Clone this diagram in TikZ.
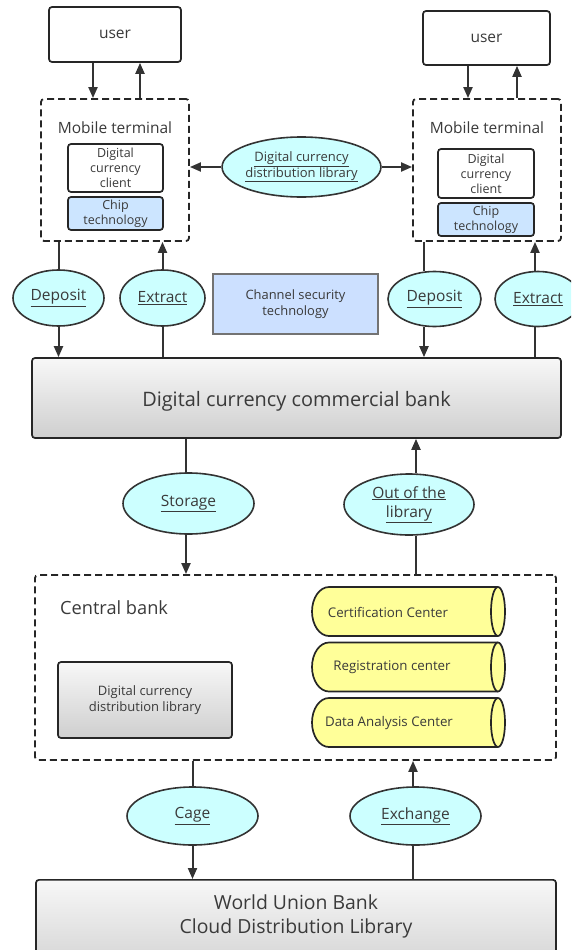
\documentclass[tikz,border=0pt]{standalone}
\usepackage{fontspec}
\setmainfont{Open Sans}
\usetikzlibrary{shapes.geometric,arrows.meta}
\definecolor{linec}{HTML}{333333}
\definecolor{txt}{HTML}{3A3A3A}
\definecolor{ellfill}{HTML}{CCFFFF}
\definecolor{chipfill}{HTML}{CCE5FF}
\definecolor{chanfill}{HTML}{CCE0FF}
\definecolor{cylfill}{HTML}{FFFF99}
\newcommand\fsz[2]{\fontsize{#1}{#2}\selectfont}
\tikzset{
  conn/.style={line width=2pt, draw=linec},
  arr/.style={conn, -{Triangle[length=11pt,width=9pt]}},
  ell/.style={ellipse, draw=linec, line width=1.6pt, fill=ellfill, inner sep=0pt, text=txt, align=center, font=\fsz{13}{15.5}},
  boxw/.style={rectangle, rounded corners=3pt, draw=black!85, line width=1.7pt, fill=white, text=txt, align=center, inner sep=0pt},
  dashbox/.style={rectangle, rounded corners=3pt, draw=black!85, line width=1.8pt, dash pattern=on 7pt off 4pt},
  graybox/.style={rectangle, rounded corners=3pt, draw=black!85, line width=1.7pt, top color=gray!6, bottom color=gray!38, text=txt, align=center, inner sep=0pt},
  lbl/.style={text=txt, inner sep=0pt, align=center},
}
\begin{document}
\begin{tikzpicture}[x=1pt,y=-1pt]
\useasboundingbox (0,0) rectangle (571,950);
\clip (0,0) rectangle (571,950);
% users
\node[boxw, minimum width=132pt, minimum height=55pt, font=\fsz{15.5}{18}] (u1) at (115,34.5) {user};
\node[boxw, minimum width=127pt, minimum height=54pt, font=\fsz{15.5}{18}] (u2) at (486.5,38) {user};
% mobile terminals
\node[dashbox, minimum width=148pt, minimum height=142pt] (t1) at (115,170) {};
\node[dashbox, minimum width=148pt, minimum height=142pt] (t2) at (487,170) {};
\node[lbl, font=\fsz{15.5}{18}] (mt1) at (115,128) {Mobile terminal};
\node[lbl, font=\fsz{15.5}{18}] (mt2) at (487,128) {Mobile terminal};
\node[boxw, minimum width=95pt, minimum height=48pt, font=\fsz{12.5}{15}] (c1) at (115.5,168) {Digital\\currency\\client};
\node[boxw, minimum width=96pt, minimum height=49pt, font=\fsz{12.5}{15}] (c2) at (486,173.5) {Digital\\currency\\client};
\node[boxw, fill=chipfill, minimum width=95pt, minimum height=33pt, font=\fsz{12.5}{15}] (ch1) at (115.5,213.5) {Chip\\technology};
\node[boxw, fill=chipfill, minimum width=96pt, minimum height=33pt, font=\fsz{12.5}{15}] (ch2) at (486,219.5) {Chip\\technology};
% central library ellipse
\node[ell, minimum width=129pt, minimum height=60pt] (dlib) at (301.5,167) {\underline{Digital currency}\\\underline{distribution library}};
% deposit / extract
\node[ell, minimum width=91pt, minimum height=56pt, font=\fsz{15.5}{18}] (dep1) at (58.5,298) {\underline{Deposit}};
\node[ell, minimum width=85pt, minimum height=56pt, font=\fsz{15.5}{18}] (ext1) at (162.5,298) {\underline{Extract}};
\node[ell, minimum width=93pt, minimum height=55pt, font=\fsz{15.5}{18}] (dep2) at (434.5,299) {\underline{Deposit}};
\node[ell, minimum width=86pt, minimum height=55pt, font=\fsz{15.5}{18}] (ext2) at (538,299) {\underline{Extract}};
\node[rectangle, draw=black!55, line width=1.4pt, fill=chanfill, minimum width=165pt, minimum height=60pt, text=txt, align=center, font=\fsz{12.9}{15.5}] (chan) at (295.5,304) {Channel security\\technology};
% commercial bank
\node[graybox, minimum width=529pt, minimum height=80pt] (bank) at (296.5,398) {};
\node[lbl, font=\fsz{19.9}{23}] (bankt) at (296.5,401) {Digital currency commercial bank};
% storage / out
\node[ell, minimum width=131pt, minimum height=61pt, font=\fsz{15.5}{19}] (stor) at (188.5,503.5) {\underline{Storage}};
\node[ell, minimum width=130pt, minimum height=61pt, font=\fsz{15.5}{19}] (outl) at (409,504.5) {\underline{Out of the}\\\underline{library}};
% central bank
\node[dashbox, minimum width=521pt, minimum height=185pt] (cb) at (295.5,667.5) {};
\node[lbl, anchor=west, font=\fsz{18.2}{21}] (cbt) at (60,608) {Central bank};
\node[graybox, minimum width=174pt, minimum height=76pt, font=\fsz{13}{15.5}] (cdl) at (145,700) {Digital currency\\distribution library};
% cylinders
\foreach \yc in {611.5, 667, 722.5}{
  \draw[line width=1.7pt, draw=black!85, fill=cylfill]
    (498,\yc-24.5) -- (329,\yc-24.5) arc[start angle=90, end angle=270, x radius=17pt, y radius=24.5pt] -- (498,\yc+24.5);
  \draw[line width=1.7pt, draw=black!85, fill=cylfill] (498,\yc) ellipse [x radius=7pt, y radius=24.5pt];
}
\node[lbl, font=\fsz{13.3}{15.5}] (cert) at (388,612) {Certification Center};
\node[lbl, font=\fsz{13.3}{15.5}] (reg) at (392,667.5) {Registration center};
\node[lbl, font=\fsz{13.3}{15.5}] (data) at (389,723) {Data Analysis Center};
% cage / exchange
\node[ell, minimum width=131pt, minimum height=58pt, font=\fsz{15.5}{19}] (cage) at (192.5,816) {\underline{Cage}};
\node[ell, minimum width=131pt, minimum height=58pt, font=\fsz{15.5}{19}] (exch) at (415.5,816) {\underline{Exchange}};
% world union bank
\node[graybox, anchor=north, minimum width=520pt, minimum height=100pt] (wub) at (296,879) {};
\node[lbl, font=\fsz{19.4}{23.5}] (wubt) at (296,916.5) {World Union Bank\\Cloud Distribution Library};
% connectors: users <-> terminals
\draw[arr] (u1.south -| 93,0) -- (t1.north -| 93,0);
\draw[arr] (t1.north -| 140,0) -- (u1.south -| 140,0);
\draw[arr] (u2.south -| 468,0) -- (t2.north -| 468,0);
\draw[arr] (t2.north -| 517,0) -- (u2.south -| 517,0);
% library ellipse to terminals
\draw[arr] (dlib.west) -- (t1.east |- dlib.west);
\draw[arr] (dlib.east) -- (t2.west |- dlib.east);
% deposit / extract
\draw[conn] (t1.south -| dep1.north) -- (dep1.north);
\draw[arr] (dep1.south) -- (bank.north -| dep1.south);
\draw[conn] (bank.north -| ext1.south) -- (ext1.south);
\draw[arr] (ext1.north) -- (t1.south -| ext1.north);
\draw[conn] (t2.south -| 424,0) -- (dep2.north -| 424,0);
\draw[arr] (dep2.south -| 424,0) -- (bank.north -| 424,0);
\draw[conn] (bank.north -| 535,0) -- (ext2.south -| 535,0);
\draw[arr] (ext2.north -| 535,0) -- (t2.south -| 535,0);
% storage / out of library
\draw[conn] (bank.south -| 186,0) -- (stor.north -| 186,0);
\draw[arr] (stor.south -| 186,0) -- (cb.north -| 186,0);
\draw[conn] (cb.north -| 416,0) -- (outl.south -| 416,0);
\draw[arr] (outl.north -| 416,0) -- (bank.south -| 416,0);
% cage / exchange
\draw[conn] (cb.south -| cage.north) -- (cage.north);
\draw[arr] (cage.south) -- (wub.north -| cage.south);
\draw[conn] (wub.north -| 413,0) -- (exch.south -| 413,0);
\draw[arr] (exch.north -| 413,0) -- (cb.south -| 413,0);
\end{tikzpicture}
\end{document}
